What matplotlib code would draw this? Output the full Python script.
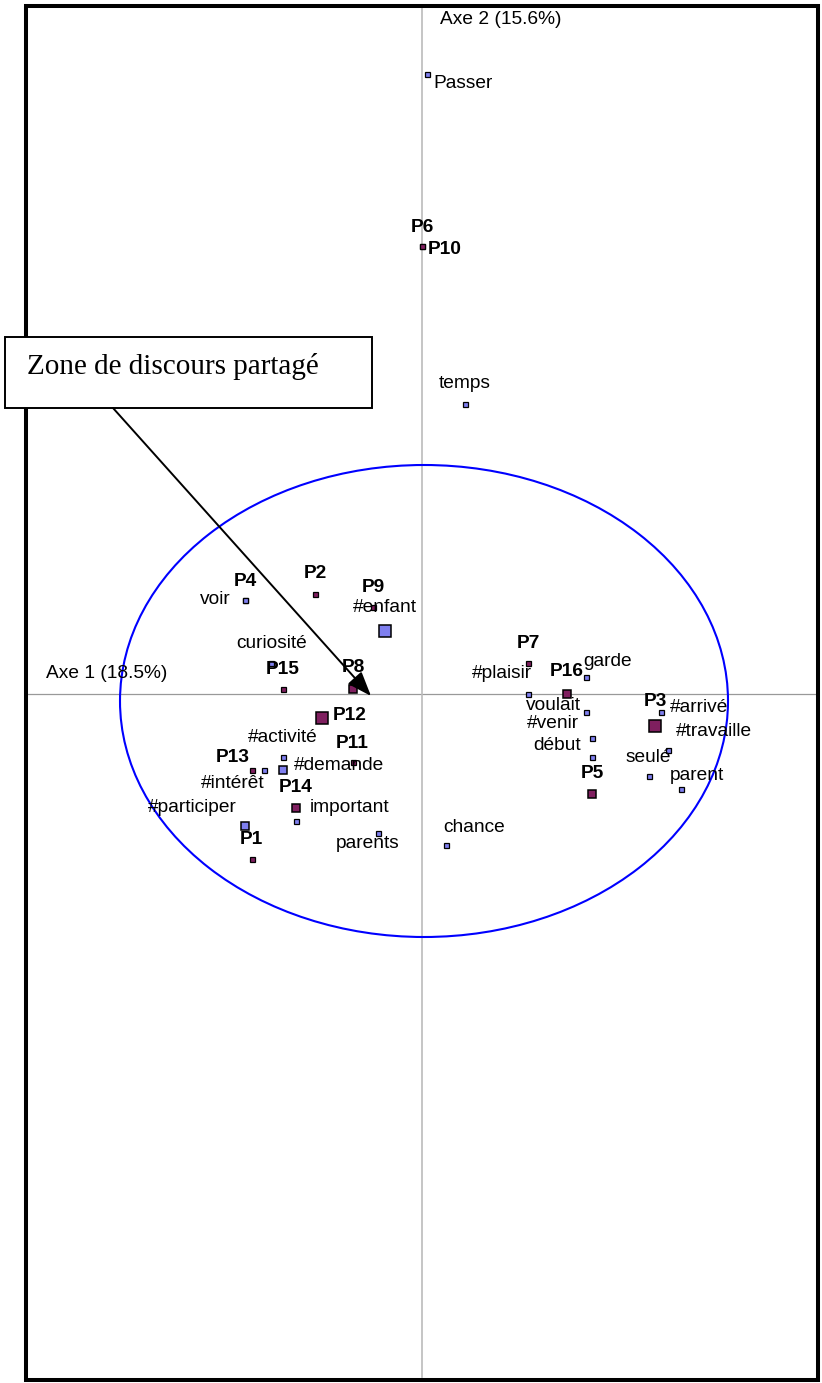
import matplotlib
matplotlib.use("Agg")
import matplotlib.pyplot as plt
from matplotlib.patches import Ellipse, Rectangle

# ---- data (factor coordinates, axis 1 / axis 2) ----
names = ["Passer", "P6", "P10", "temps", "P4", "voir", "P2", "P9", "#enfant",
         "curiosité", "P15", "P8", "P12", "#activité", "P11", "P14", "#demande",
         "P13", "#intérêt", "#participer", "important", "", "P1", "parents",
         "chance", "P7", "#plaisir", "P16", "garde", "voulait", "#venir", "début",
         "P5", "P3", "#arrivé", "#travaille", "seulé", "parent"]
axis1 = [0.05, 0.00, 0.00, 0.43, -1.77, -1.77, -1.07, -0.49, -0.37,
         -1.51, -1.39, -0.69, -1.00, -1.39, -0.69, -1.39, -1.39,
         -1.70, -1.58, -1.77, -1.26, -1.26, -1.70, -0.44,
         0.24, 1.06, 1.06, 1.45, 1.64, 1.64, 1.70, 1.70,
         1.70, 2.33, 2.39, 2.46, 2.27, 2.59]
axis2 = [6.20, 4.48, 4.48, 2.90, 0.94, 0.94, 1.00, 0.87, 0.63,
         0.31, 0.05, 0.05, -0.24, -0.63, -0.68, -0.76, -0.76,
         -0.76, -0.76, -1.32, -1.14, -1.27, -1.65, -1.39,
         -1.51, 0.31, 0.00, 0.00, 0.17, -0.18, -0.44, -0.63,
         -1.00, -0.32, -0.18, -0.56, -0.82, -0.95]
groups = ["w", "p", "p", "w", "p", "w", "p", "p", "b",
          "w", "p", "p", "p", "w", "p", "b", "none",
          "p", "w", "b", "p", "w", "p", "w",
          "w", "p", "w", "p", "w", "w", "w", "w",
          "p", "p", "w", "w", "w", "w"]
weights = [1, 1, 1, 1, 1, 1, 1, 1, 3,
           1, 1, 2, 3, 1, 1, 2, 0,
           1, 1, 2, 2, 1, 1, 1,
           1, 1, 1, 2, 1, 1, 1, 1,
           2, 3, 1, 1, 1, 1]
axis_labels = ["Axe 1 (18.5%)", "Axe 2 (15.6%)"]
zone_text = "Zone de discours partagé"

# ---- layout (pixel offsets of labels from their points) ----
label_offsets = {
    "Passer": (6, 10, "left"), "P6": (0, -19, "center"), "P10": (6, 4, "left"),
    "temps": (0, -20, "center"), "P4": (0, -19, "center"), "voir": (-30, 0, "center"),
    "P2": (0, -20, "center"), "P9": (0, -19, "center"), "#enfant": (0, -24, "center"),
    "curiosité": (1, -20, "center"), "P15": (0, -20, "center"), "P8": (0, -21, "center"),
    "P12": (11, -3, "left"), "#activité": (0, -20, "center"), "P11": (-1, -19, "center"),
    "P14": (13, 17, "center"), "#demande": (11, -5, "left"), "P13": (-19, -13, "center"),
    "#intérêt": (-31, 13, "center"), "#participer": (-53, -19, "center"),
    "important": (14, 0, "left"), "P1": (-1, -19, "center"), "parents": (-10, 11, "center"),
    "chance": (28, -18, "center"), "P7": (0, -20, "center"), "#plaisir": (-26, -21, "center"),
    "P16": (0, -22, "center"), "garde": (22, -16, "center"), "voulait": (-33, -6, "center"),
    "#venir": (-39, -15, "center"), "début": (-35, -11, "center"), "P5": (0, -21, "center"),
    "P3": (0, -24, "center"), "#arrivé": (38, -5, "center"), "#travaille": (8, -18, "left"),
    "seulé": (-1, -19, "center"), "parent": (16, -13, "center"),
}

W, H = 822, 1383
DPI = 100
OX, OY, S = 422, 694, 100.0   # origin pixel and px per unit

def ux(px):
    return (px - OX) / S

def uy(py):
    return (OY - py) / S

fig = plt.figure(figsize=(W / DPI, H / DPI), dpi=DPI)
ax = fig.add_axes([0, 0, 1, 1])
ax.set_xlim(ux(0), ux(W))
ax.set_ylim(uy(H), uy(0))
ax.axis("off")

FONT = "Liberation Sans"
FS = 13.8
PURPLE = "#7f1f5f"
BLUE = "#7f7fef"

# frame
ax.add_patch(Rectangle((ux(26), uy(1380)), ux(817.5) - ux(26), uy(6) - uy(1380),
                       fill=False, lw=2.9, ec="black", zorder=2))
# axes lines
ax.plot([ux(28), ux(815)], [0, 0], color="#999999", lw=0.9, zorder=1)
ax.plot([0, 0], [uy(8), uy(1377)], color="#bbbbbb", lw=1.2, zorder=1)

ax.text(ux(107), uy(673), axis_labels[0], ha="center", va="center",
        fontsize=FS, family=FONT, zorder=5)
ax.text(ux(501), uy(20), axis_labels[1], ha="center", va="center",
        fontsize=FS, family=FONT, zorder=5)

# ellipse
ax.add_patch(Ellipse((ux(424), uy(701)), 6.08, 4.72, fill=False,
                     ec="#0000ff", lw=1.5, zorder=3))

# points
size_map = {1: 3.6, 2: 5.8, 3: 8.0}
for n, x, y, g, w in zip(names, axis1, axis2, groups, weights):
    if g == "none" or w == 0:
        continue
    fc = PURPLE if g == "p" else BLUE
    ax.plot([x], [y], marker="s", ms=size_map[w], mfc=fc, mec="black",
            mew=0.9 if w == 1 else 1.1, ls="none", zorder=4)

# labels
for n, x, y in zip(names, axis1, axis2):
    if not n:
        continue
    dx, dy, ha = label_offsets[n]
    bold = n.startswith("P") and n[1:].isdigit()
    ax.annotate(n, (x, y), xytext=(dx, -dy), textcoords="offset pixels",
                ha=ha, va="center", fontsize=FS, family=FONT,
                fontweight="bold" if bold else "normal", zorder=6)

# text box and arrow
ax.add_patch(Rectangle((ux(5), uy(408)), ux(372) - ux(5), uy(337) - uy(408),
                       fc="white", ec="black", lw=1.4, zorder=7))
ax.text(ux(27), uy(367), zone_text, ha="left", va="center", fontsize=21,
        family="Liberation Serif", zorder=8)
ax.annotate("", xy=(ux(371), uy(696)), xytext=(ux(113), uy(408)),
            arrowprops=dict(arrowstyle="-|>,head_length=0.75,head_width=0.28",
                            mutation_scale=20, lw=1.4, color="black",
                            shrinkA=0, shrinkB=0), zorder=7)

fig.savefig("out.png", dpi=DPI)
